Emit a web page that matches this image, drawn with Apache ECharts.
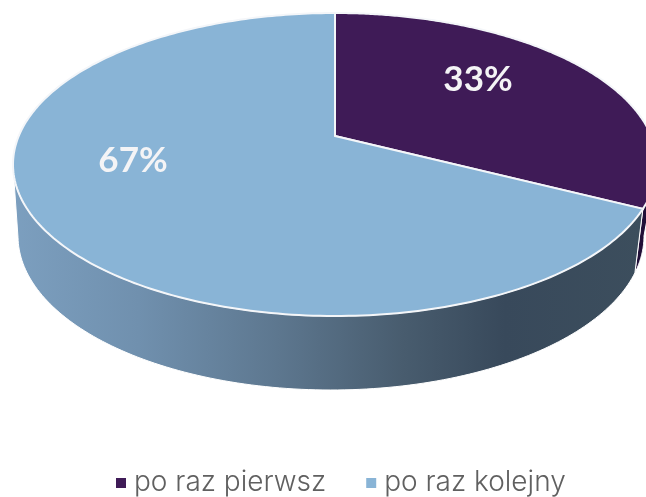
<!DOCTYPE html>
<html>
<head>
<meta charset="utf-8">
<style>
html, body { margin: 0; padding: 0; background: #fff; }
#chart { width: 646px; height: 497px; }
</style>
<script src="https://cdn.jsdelivr.net/npm/echarts@6/dist/echarts.min.js"></script>
</head>
<body>
<div id="chart"></div>
<script>
var categories = ["po raz pierwsz", "po raz kolejny"];
var shares = [33, 67];
var colors = ["#3f1b57", "#89b4d6"];

// tilted disc: top face, bottom rim, where the tip of the slices sits
var topFace = { cx: 335, cy: 164.5, rx: 322, ry: 151.5, k: -0.22 };
var rim = { cx: 331, cy: 236, rx: 313, ry: 154, k: -0.274 };
var tip = [335, 136];
var labelSpots = [[478, 80], [133, 161]];

var blueWall = {
    type: "linear", x: 0, y: 0, x2: 1, y2: 0,
    colorStops: [
        { offset: 0, color: "#7c9fbf" },
        { offset: 0.2, color: "#7090ae" },
        { offset: 0.42, color: "#5d778f" },
        { offset: 0.62, color: "#485c6e" },
        { offset: 0.78, color: "#38495b" },
        { offset: 1, color: "#3c4e5d" }
    ]
};
var sideColors = ["#210f38", blueWall];

var total = shares.reduce(function (a, b) { return a + b; }, 0);

// clockwise angle from 12 o'clock -> point on an ellipse seen in perspective
function project(a, e) {
    var u = Math.sin(a), v = -Math.cos(a);
    var d = 1 + e.k * v;
    return {
        x: e.cx + e.rx * u * Math.sqrt(1 - e.k * e.k) / d,
        y: e.cy + e.ry * (v + e.k) / d,
        front: (v + e.k) >= 0
    };
}

function arc(from, to, e, frontOnly) {
    var pts = [];
    var steps = 240;
    for (var i = 0; i <= steps; i++) {
        var p = project(from + (to - from) * i / steps, e);
        if (!frontOnly || p.front) {
            pts.push([p.x, p.y]);
        }
    }
    return pts;
}

function renderSlice(params, api) {
    var idx = params.seriesIndex;
    var before = shares.slice(0, idx).reduce(function (a, b) { return a + b; }, 0);
    var from = before / total * Math.PI * 2;
    var to = (before + api.value(0)) / total * Math.PI * 2;

    var wallPts = arc(from, to, topFace, true).concat(arc(from, to, rim, true).reverse());
    var facePts = [tip].concat(arc(from, to, topFace, false));

    return {
        type: "group",
        children: [
            {
                type: "polygon",
                shape: { points: wallPts },
                style: { fill: sideColors[idx], stroke: "#fff", lineWidth: 1 }
            },
            {
                type: "polygon",
                shape: { points: facePts },
                style: { fill: colors[idx], stroke: "#f4f6f9", lineWidth: 2 }
            },
            {
                type: "text",
                x: labelSpots[idx][0],
                y: labelSpots[idx][1],
                style: {
                    text: api.value(0) + "%",
                    fill: "#f4f4f6",
                    fontFamily: "Lato",
                    fontWeight: "bold",
                    fontSize: 35,
                    align: "center",
                    verticalAlign: "middle"
                }
            }
        ]
    };
}

var chart = echarts.init(document.getElementById("chart"));
chart.setOption({
    animation: false,
    color: colors,
    legend: {
        data: categories,
        left: 116,
        top: 469,
        padding: 0,
        icon: "rect",
        itemWidth: 10,
        itemHeight: 10,
        itemGap: 40,
        textStyle: {
            color: "#606060",
            fontFamily: "Inter",
            fontWeight: 300,
            fontSize: 28,
            padding: [0, 0, 0, 3]
        }
    },
    series: categories.map(function (name, i) {
        return {
            type: "custom",
            name: name,
            coordinateSystem: "none",
            silent: true,
            itemStyle: { color: colors[i] },
            renderItem: renderSlice,
            data: [[shares[i]]]
        };
    })
});
</script>
</body>
</html>
